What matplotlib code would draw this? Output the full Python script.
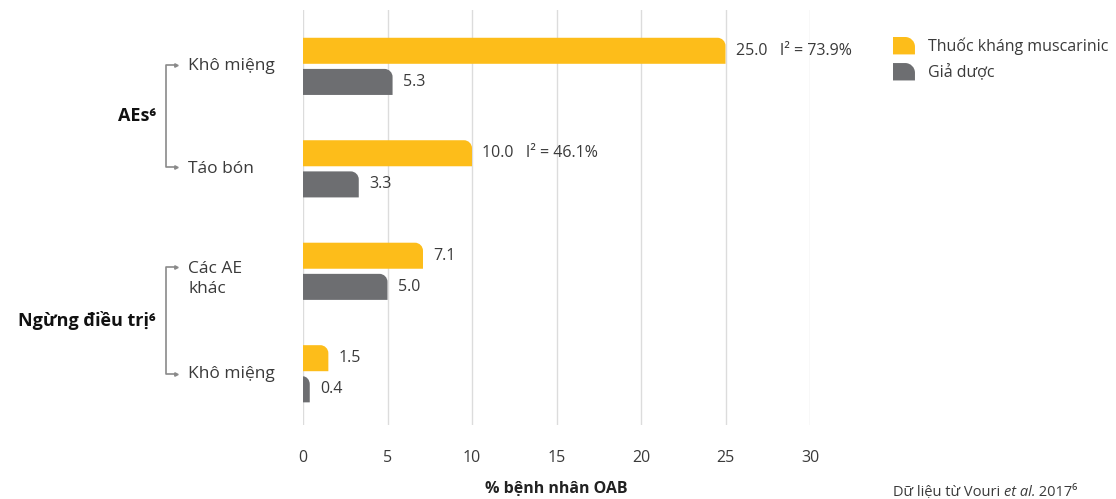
"""
Horizontal paired bar chart: anticholinergic vs placebo adverse events.
"""

import matplotlib.pyplot as plt
import numpy as np
from matplotlib.path import Path
from matplotlib.patches import PathPatch
from matplotlib.legend_handler import HandlerPatch
from matplotlib import transforms

plt.rcParams['font.family'] = ['Open Sans', 'DejaVu Sans']

# data
groups = ['AEs⁶', 'Ngừng điều trị⁶']
categories = ['Khô miệng', 'Táo bón', 'Các AE\nkhác', 'Khô miệng']
drug_values = [25.0, 10.0, 7.1, 1.5]
placebo_values = [5.3, 3.3, 5.0, 0.4]
i2_labels = ['I² = 73.9%', 'I² = 46.1%', '', '']
series_names = ['Thuốc kháng muscarinic', 'Giả dược']
xticks = [0, 5, 10, 15, 20, 25, 30]

YELLOW = '#fdbd1a'
GRAY = '#6d6e71'
GRID = '#dcdcdc'
TEXT = '#3a3a3a'


def rounded_path(x0, y0, w, h, rx, ry):
    """Rectangle path with the top-right corner rounded (y axis inverted)."""
    rx = min(rx, w)
    ry = min(ry, h / 2)
    k = 0.552
    ytop, ybot = y0, y0 + h
    x1 = x0 + w
    verts = [(x0, ybot), (x1, ybot), (x1, ytop + ry),
             (x1, ytop + ry * (1 - k)), (x1 - rx * (1 - k), ytop), (x1 - rx, ytop),
             (x0, ytop), (x0, ybot)]
    codes = [Path.MOVETO, Path.LINETO, Path.LINETO,
             Path.CURVE4, Path.CURVE4, Path.CURVE4,
             Path.LINETO, Path.CLOSEPOLY]
    return Path(verts, codes)


def swatch_path(x0, y0, w, h, r):
    """Legend swatch (y axis upward) with the top-right corner rounded."""
    k = 0.552
    verts = [(x0, y0), (x0 + w, y0), (x0 + w, y0 + h - r),
             (x0 + w, y0 + h - r * (1 - k)), (x0 + w - r * (1 - k), y0 + h),
             (x0 + w - r, y0 + h), (x0, y0 + h), (x0, y0)]
    codes = [Path.MOVETO, Path.LINETO, Path.LINETO,
             Path.CURVE4, Path.CURVE4, Path.CURVE4,
             Path.LINETO, Path.CLOSEPOLY]
    return Path(verts, codes)


def swatch_func(legend, orig_handle, xdescent, ydescent, width, height, fontsize):
    return PathPatch(swatch_path(-xdescent, -ydescent, width, height, 7))


fig = plt.figure(figsize=(11.16, 4.99), dpi=100)
W, H = 1116, 499
ax = fig.add_axes([303 / W, 1 - 425 / H, (810 - 303) / W, (425 - 10) / H])

ypos = np.arange(len(categories))
bar_h = 0.254
off = 0.152

ax.set_xlim(0, 30)
ax.set_ylim(3.5, -0.55)

b1 = ax.barh(ypos - off, drug_values, height=bar_h, color=YELLOW)
b2 = ax.barh(ypos + off, placebo_values, height=bar_h, color=GRAY)

# pixel scale to turn rectangles into rounded bars
p0 = ax.transData.transform((0, 0))
px_x = ax.transData.transform((1, 0))[0] - p0[0]
px_y = abs(ax.transData.transform((0, 1))[1] - p0[1])
r_px = 8

for bars, col in [(b1, YELLOW), (b2, GRAY)]:
    for b in bars:
        b.set_visible(False)
        path = rounded_path(b.get_x(), b.get_y(), b.get_width(), b.get_height(),
                            r_px / px_x, r_px / px_y)
        ax.add_patch(PathPatch(path, facecolor=col, edgecolor='none', zorder=3))

# value labels
for i, (v, lab) in enumerate(zip(drug_values, i2_labels)):
    txt = f'{v:.1f}'
    if lab:
        txt += '   ' + lab
    ax.text(v + 0.6, ypos[i] - off, txt, va='center', ha='left',
            fontsize=11.5, color=TEXT)
for i, v in enumerate(placebo_values):
    ax.text(v + 0.6, ypos[i] + off, f'{v:.1f}', va='center', ha='left',
            fontsize=11.5, color=TEXT)

# axes styling
for s in ax.spines.values():
    s.set_visible(False)
ax.set_xticks(xticks)
ax.set_xticklabels([str(t) for t in xticks], fontsize=11.5, color=TEXT)
ax.tick_params(axis='x', length=0, pad=18)
ax.set_yticks([])
ax.grid(axis='x', color=GRID, linewidth=1, zorder=0)
ax.set_axisbelow(True)
ax.set_xlabel('% bệnh nhân OAB', fontsize=11.5, fontweight='bold',
              color='#222222', labelpad=11)

# category labels and brackets (x in figure fraction, y in data)
trans = transforms.blended_transform_factory(fig.transFigure, ax.transData)
lab_y = [0.0, 0.0, 0.075, 0.0]
for i, c in enumerate(categories):
    ax.text(188 / W, ypos[i] - off + 0.15 + lab_y[i], c, transform=trans,
            ha='left', va='center', fontsize=12.5, color=TEXT,
            linespacing=1.35)

tick_y = [ypos[0] - 0.015, ypos[1] - 0.015, ypos[2] - 0.045, ypos[3] + 0.0]
brackets = [(0, 1), (2, 3)]
for gi, (a, b) in enumerate(brackets):
    ya, yb = tick_y[a], tick_y[b]
    ax.plot([175 / W, 166 / W, 166 / W, 175 / W], [ya, ya, yb, yb],
            transform=trans, color='#8a8a8a', lw=1.2, clip_on=False)
    ax.plot([176 / W, 176 / W], [ya, yb], transform=trans, ls='none',
            marker='>', ms=2.5, color='#8a8a8a', clip_on=False)
    ax.text(156 / W, (ya + yb) / 2, groups[gi], transform=trans,
            ha='right', va='center', fontsize=13, fontweight='bold',
            color='#111111')

# legend with rounded swatches
handles = [PathPatch(Path([(0, 0)]), facecolor=YELLOW, edgecolor='none'),
           PathPatch(Path([(0, 0)]), facecolor=GRAY, edgecolor='none')]
leg = fig.legend(handles, series_names, loc='upper left',
                 bbox_to_anchor=(893 / W, 1 - 37 / H), frameon=False,
                 fontsize=11.5, handlelength=1.375, handleheight=1.3,
                 handletextpad=0.8, labelspacing=0.5, borderpad=0,
                 borderaxespad=0,
                 handler_map={PathPatch: HandlerPatch(patch_func=swatch_func)})
for t in leg.get_texts():
    t.set_color(TEXT)

# source note
fs = 10.5
t1 = fig.text(893 / W, 1 - 492 / H, 'Dữ liệu từ Vouri ', fontsize=fs,
              color=TEXT, va='center', ha='left')
t2 = fig.text(0, 0, 'et al.', fontsize=fs, color=TEXT, style='italic',
              va='bottom', ha='left')
fig.canvas.draw()
r = fig.canvas.get_renderer()
bb = t1.get_window_extent(r)
t2.set_position((bb.x1 / W, bb.y0 / H))
bb2 = t2.get_window_extent(r)
fig.text(bb2.x1 / W, bb.y0 / H, ' 2017⁶', fontsize=fs, color=TEXT,
         va='bottom', ha='left')

plt.savefig('out.png', dpi=100)
